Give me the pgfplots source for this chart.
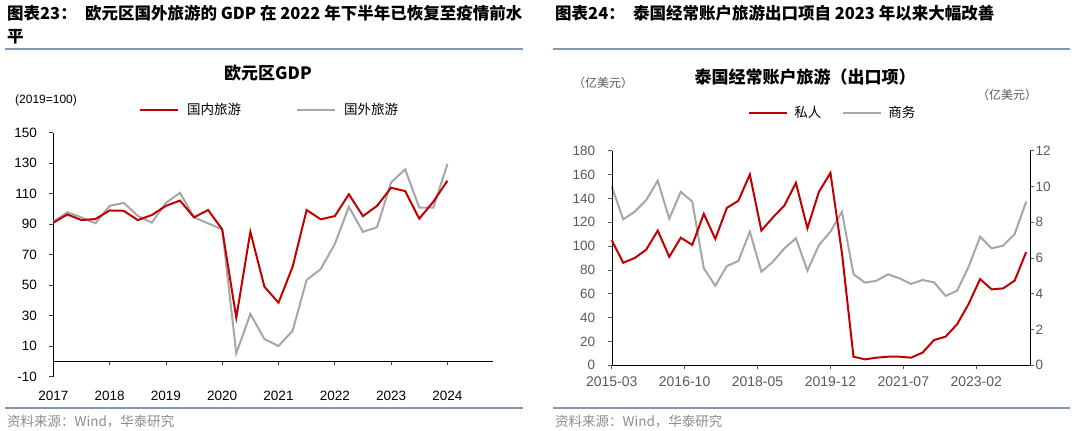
\documentclass[border=0pt]{standalone}
\usepackage{fontspec}
\usepackage{pgfplots}
\pgfplotsset{compat=1.18}
\setmainfont{Liberation Sans}
\newfontfamily\cjk{Noto Sans CJK SC}
\definecolor{ser1}{HTML}{C00000}
\definecolor{ser2}{HTML}{A6A6A6}
\definecolor{rulec}{HTML}{8497B0}
\definecolor{axl}{HTML}{404040}
\definecolor{axr}{HTML}{595959}
\definecolor{srcc}{HTML}{8C8C8C}

\pgfplotsset{
  common/.style={
    scale only axis,
    axis line style={-},
    tick align=outside,
    major tick length=4pt,
    hide obscured x ticks=false,
    hide obscured y ticks=false,
    /pgf/number format/assume math mode=true,
    tick label style={font=\fontsize{13.5}{15}\selectfont},
    clip=false,
  },
  legendline/.style={
    legend image code/.code={\draw[##1] (0pt,0pt) -- (38pt,0pt);},
  },
}

\begin{document}
\begin{tikzpicture}
\useasboundingbox (0pt,0pt) rectangle (1080pt,431pt);

% headers and rules
\node[anchor=west, inner sep=0pt] at (7pt,418pt)
  {\cjk\bfseries\fontsize{16.5}{18}\selectfont 图表23：\hspace{0.5em}欧元区国外旅游的 GDP 在 2022 年下半年已恢复至疫情前水};
\node[anchor=west, inner sep=0pt] at (7pt,394pt)
  {\cjk\bfseries\fontsize{16.5}{18}\selectfont 平};
\node[anchor=west, inner sep=0pt] at (555pt,418pt)
  {\cjk\bfseries\fontsize{16.5}{18}\selectfont 图表24：\hspace{0.5em}泰国经常账户旅游出口项自 2023 年以来大幅改善};
\draw[rulec, line width=1.6pt] (5pt,382pt) -- (523pt,382pt);
\draw[rulec, line width=1.6pt] (553pt,382pt) -- (1070pt,382pt);
\draw[rulec, line width=1.6pt] (5pt,23pt) -- (523pt,23pt);
\draw[rulec, line width=1.6pt] (553pt,23pt) -- (1070pt,23pt);
\node[anchor=west, inner sep=0pt, text=srcc] at (7pt,9pt)
  {\cjk\fontsize{13.5}{15}\selectfont 资料来源：Wind，华泰研究};
\node[anchor=west, inner sep=0pt, text=srcc] at (555pt,9pt)
  {\cjk\fontsize{13.5}{15}\selectfont 资料来源：Wind，华泰研究};

% left chart texts
\node[inner sep=0pt] at (268pt,358pt)
  {\cjk\bfseries\fontsize{17}{19}\selectfont 欧元区GDP};
\node[anchor=west, inner sep=0pt] at (15pt,331pt)
  {\fontsize{12}{14}\selectfont (2019=100)};

% right chart texts
\node[inner sep=0pt] at (805pt,354pt)
  {\cjk\bfseries\fontsize{17}{19}\selectfont 泰国经常账户旅游（出口项）};
\node[inner sep=0pt, text=axr] at (603pt,348pt)
  {\cjk\fontsize{12}{14}\selectfont （亿美元）};
\node[inner sep=0pt, text=axr] at (1007pt,336pt)
  {\cjk\fontsize{12}{14}\selectfont （亿美元）};

% ---------------- left chart
\begin{axis}[
  common, legendline,
  at={(53.3pt,54.3pt)}, anchor=south west,
  width=439.7pt, height=244pt,
  xmin=2017, xmax=2024.81, ymin=-10, ymax=150,
  axis x line*=middle, axis y line*=left,
  every axis x line/.append style={axl, line width=0.8pt},
  every axis y line/.append style={axl, line width=0.8pt},
  tick style={axl, line width=0.8pt},
  xtick={2017,2018,2019,2020,2021,2022,2023,2024},
  xticklabels={2017,2018,2019,2020,2021,2022,2023,2024},
  ytick={-10,10,30,50,70,90,110,130,150},
  xticklabel style={anchor=center, yshift=-30pt, text=black},
  yticklabel style={text=black, xshift=-9pt},
  legend style={at={(0.195,1.093)}, anchor=west, draw=none, fill=none,
    inner sep=0pt, nodes={inner sep=0pt},
    legend columns=2, font=\cjk\fontsize{13.5}{15}\selectfont,
    /tikz/every odd column/.append style={column sep=8pt},
    /tikz/every even column/.append style={column sep=55pt}},
]
\addlegendimage{ser1, line width=2pt}
\addlegendentry{国内旅游}
\addplot[ser2, line width=2pt] coordinates {
  (2017.00,91.6) (2017.25,97.8) (2017.50,94.5) (2017.75,90.6)
  (2018.00,102.0) (2018.25,104.0) (2018.50,95.5) (2018.75,91.0)
  (2019.00,104.0) (2019.25,110.6) (2019.50,94.5) (2019.75,90.5)
  (2020.00,86.6) (2020.25,5.3) (2020.50,31.1) (2020.75,14.7)
  (2021.00,10.1) (2021.25,20.1) (2021.50,53.4) (2021.75,60.6)
  (2022.00,77.0) (2022.25,101.4) (2022.50,85.0) (2022.75,88.0)
  (2023.00,117.4) (2023.25,126.0) (2023.50,100.8) (2023.75,100.8)
  (2024.00,129.4)
};
\addlegendentry{国外旅游}
\addplot[ser1, line width=2pt, forget plot] coordinates {
  (2017.00,91.0) (2017.25,96.4) (2017.50,92.7) (2017.75,93.4)
  (2018.00,99.0) (2018.25,98.8) (2018.50,92.7) (2018.75,96.0)
  (2019.00,102.0) (2019.25,105.5) (2019.50,94.5) (2019.75,99.3)
  (2020.00,86.6) (2020.25,28.7) (2020.50,85.0) (2020.75,49.0)
  (2021.00,38.5) (2021.25,62.0) (2021.50,99.3) (2021.75,93.2)
  (2022.00,95.3) (2022.25,109.6) (2022.50,95.3) (2022.75,102.0)
  (2023.00,113.9) (2023.25,111.7) (2023.50,93.6) (2023.75,104.7)
  (2024.00,118.5)
};
\end{axis}

% ---------------- right chart: business (right scale)
\begin{axis}[
  common,
  at={(611.7pt,65.7pt)}, anchor=south west,
  width=418.3pt, height=214.6pt,
  xmin=0, xmax=109, ymin=0, ymax=12,
  axis x line*=bottom, axis y line*=right,
  every axis x line/.append style={axr, line width=0.8pt},
  every axis y line/.append style={axr, line width=0.8pt},
  tick style={axr, line width=0.8pt},
  xtick={0,19,38,57,76,95},
  xticklabels={2015-03,2016-10,2018-05,2019-12,2021-07,2023-02},
  ytick={0,2,4,6,8,10,12},
  tick label style={text=axr},
  xticklabel style={font=\fontsize{14}{16}\selectfont, yshift=-4pt},
  yticklabel style={xshift=-2pt},
]
\addplot[ser2, line width=2pt] coordinates {
  (0,10.00) (3,8.16) (6,8.59) (9,9.24) (12,10.32) (15,8.20) (18,9.70)
  (21,9.15) (24,5.42) (27,4.45) (30,5.55) (33,5.83) (36,7.47) (39,5.23)
  (42,5.79) (45,6.54) (48,7.10) (51,5.29) (54,6.72) (57,7.47) (60,8.59)
  (63,5.09) (66,4.62) (69,4.73) (72,5.09) (75,4.86) (78,4.55) (81,4.77)
  (84,4.64) (87,3.88) (90,4.17) (93,5.51) (96,7.19) (99,6.54) (102,6.69)
  (105,7.34) (108,9.15)
};
\end{axis}

% ---------------- right chart: private (left scale)
\begin{axis}[
  common, legendline,
  at={(611.7pt,65.7pt)}, anchor=south west,
  width=418.3pt, height=214.6pt,
  xmin=0, xmax=109, ymin=0, ymax=180,
  axis x line=none, axis y line*=left,
  every axis y line/.append style={axr, line width=0.8pt},
  tick style={axr, line width=0.8pt},
  ytick={0,20,40,60,80,100,120,140,160,180},
  tick label style={text=axr},
  yticklabel style={xshift=-9pt},
  legend style={at={(0.326,1.176)}, anchor=west, draw=none, fill=none,
    inner sep=0pt, nodes={inner sep=0pt},
    legend columns=2, font=\cjk\fontsize{13.5}{15}\selectfont,
    /tikz/every odd column/.append style={column sep=6pt},
    /tikz/every even column/.append style={column sep=21pt}},
]
\addplot[ser1, line width=2pt] coordinates {
  (0,105) (3,86) (6,90) (9,97) (12,113) (15,91) (18,107)
  (21,101) (24,127) (27,106) (30,132) (33,138) (36,160) (39,113)
  (42,124) (45,134) (48,153) (51,115) (54,145.5) (57,161.4) (60,94)
  (63,7.2) (66,5.0) (69,6.4) (72,7.2) (75,7.2) (78,6.4) (81,10.6)
  (84,21.2) (87,24.0) (90,34.4) (93,51.4) (96,72.3) (99,63.7) (102,64.5)
  (105,71.0) (108,95.0)
};
\addlegendentry{私人}
\addlegendimage{ser2, line width=2pt}
\addlegendentry{商务}
\end{axis}
\end{tikzpicture}
\end{document}
